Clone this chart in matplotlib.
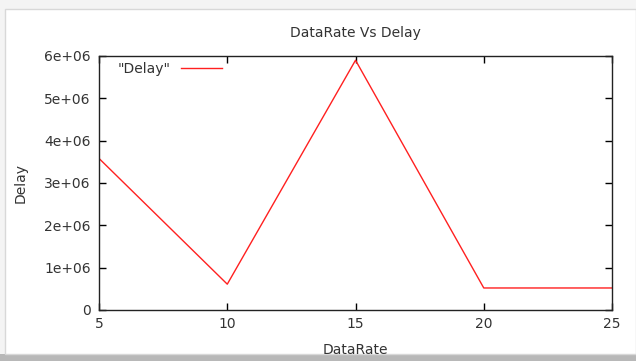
import matplotlib
matplotlib.use("Agg")
import matplotlib.pyplot as plt
from matplotlib.patches import Rectangle

# values
data_rate = [5, 10, 15, 20, 25]
delay = [3.58e6, 0.61e6, 5.9e6, 0.52e6, 0.52e6]
yticks = [0, 1e6, 2e6, 3e6, 4e6, 5e6, 6e6]
ylabels = ["0", "1e+06", "2e+06", "3e+06", "4e+06", "5e+06", "6e+06"]

txt = "#333333"
fs = 10
plt.rcParams['font.family'] = ['DejaVu Sans']

fig = plt.figure(figsize=(6.36, 3.61), dpi=100)
fig.patch.set_facecolor("white")

# window frame of the screenshot
fig.patches.append(Rectangle((0, 0), 1, 1, transform=fig.transFigure,
                             facecolor="#f4f4f4", edgecolor="none", zorder=-3))
fig.patches.append(Rectangle((0, 0), 1, 0.02, transform=fig.transFigure,
                             facecolor="#b8b8b8", edgecolor="none", zorder=-2))
fig.patches.append(Rectangle((0.008, 0.02), 0.992, 0.955, transform=fig.transFigure,
                             facecolor="white", edgecolor="#d8d8d8", lw=1, zorder=-1))

ax = fig.add_axes([0.1557, 0.1413, 0.8066, 0.7036])
ax.plot(data_rate, delay, color="#ff2020", lw=1, label='"Delay"')

ax.set_xlim(5, 25)
ax.set_ylim(0, 6e6)
ax.set_xticks([5, 10, 15, 20, 25])
ax.set_yticks(yticks)
ax.set_yticklabels(ylabels)
ax.tick_params(direction="in", top=True, right=True, length=5, width=1,
               labelsize=fs, labelcolor=txt, pad=6)
ax.tick_params(axis="x", pad=5)
for s in ax.spines.values():
    s.set_linewidth(1)
    s.set_color("#222222")

ax.set_title("DataRate Vs Delay", fontsize=fs, color=txt, pad=14)
ax.set_xlabel("DataRate", fontsize=fs, color=txt, labelpad=8.5)
ax.set_ylabel("Delay", fontsize=fs, color=txt, labelpad=12)

ax.legend(loc="upper left", frameon=False, markerfirst=False, fontsize=fs,
          handlelength=3.0, handletextpad=0.7, labelcolor=txt,
          borderaxespad=0.0, bbox_to_anchor=(0.026, 1.0))

fig.savefig("out.png", dpi=100)
